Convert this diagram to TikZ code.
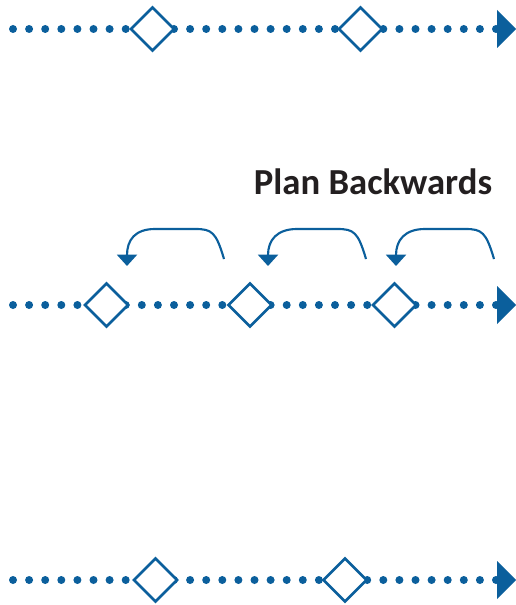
\documentclass[tikz,border=0pt]{standalone}
\usepackage{fontspec}
\setmainfont{Carlito}
\usetikzlibrary{shapes.geometric,arrows.meta}
\definecolor{planblue}{RGB}{11,95,156}
\definecolor{titlegray}{RGB}{35,31,32}

\begin{document}
\begin{tikzpicture}[x=0.75pt,y=-0.75pt,
	milestone/.style={diamond, draw=planblue, line width=1.9pt, fill=white, minimum width=33pt, minimum height=33pt, inner sep=0pt},
	backstep/.style={draw=planblue, line width=1.6pt, -{Triangle[length=8.5pt,width=15pt]}}]
	\useasboundingbox (0,0) rectangle (516,605);
	% Draw the dotted time lines
	\foreach \y in {29,305,580}{
		\foreach \k in {0,...,30}
			\fill[planblue] (13+16.1*\k,\y) circle (3pt);
		\fill[planblue] (497,\y-19) -- (516,\y) -- (497,\y+19) -- cycle;
	}
	% Draw the milestones
	\node[milestone] (top1) at (152.5,29) {};
	\node[milestone] (top2) at (360.5,29) {};
	\node[milestone] (mid1) at (106.5,305) {};
	\node[milestone] (mid2) at (250,305) {};
	\node[milestone] (mid3) at (394.5,305) {};
	\node[milestone] (low1) at (155.5,580) {};
	\node[milestone] (low2) at (345,580) {};
	% Label the backward planning
	\node[anchor=base, text=titlegray, font=\fontsize{27.5pt}{32pt}\selectfont\bfseries] (title) at (373,195) {Plan Backwards};
	% Draw the backward arrows
	\coordinate (from1) at (224,259); \coordinate (to1) at (127,266);
	\coordinate (from2) at (366,259); \coordinate (to2) at (268,266);
	\coordinate (from3) at (494,259); \coordinate (to3) at (396,266);
	\foreach \i in {1,2,3}
		\draw[backstep] (from\i) .. controls +(-8,-27) and +(17,0) .. ++(-29,-30) -- ++(-40,0) .. controls +(-20,0) and +(0,-26) .. (to\i);
\end{tikzpicture}
\end{document}
